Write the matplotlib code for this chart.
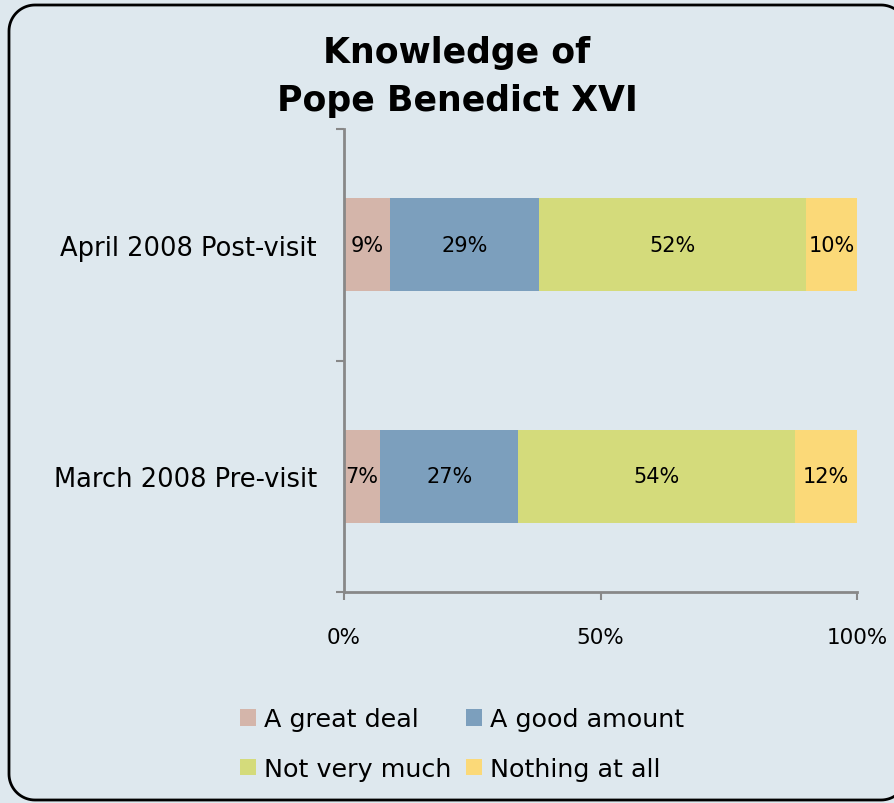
import numpy as np
import matplotlib.pyplot as plt
from matplotlib.lines import Line2D

categories = ['March 2008 Pre-visit', 'April 2008 Post-visit']
series = ['A great deal', 'A good amount', 'Not very much', 'Nothing at all']
great_deal = [7, 9]
good_amount = [27, 29]
not_much = [54, 52]
nothing = [12, 10]
colors = ['#D4B5AA', '#7C9FBD', '#D4DB7B', '#FBD978']

bg = '#DEE8EE'
plt.rcParams['font.family'] = ['DejaVu Sans']

W, H = 894, 804
fig = plt.figure(figsize=(W / 100, H / 100), dpi=100)
fig.patch.set_facecolor(bg)

# rounded frame (pixels), right edge sits just past the figure like the original
x0, y0, x1, y1, r = 9, 3, 907, 798, 26
fx, fy = [], []
for cx, cy, a0 in [(x1 - r, y1 - r, 0), (x0 + r, y1 - r, 90), (x0 + r, y0 + r, 180), (x1 - r, y0 + r, 270)]:
    t = np.radians(np.linspace(a0, a0 + 90, 20))
    fx += list(cx + r * np.cos(t))
    fy += list(cy + r * np.sin(t))
fx.append(fx[0])
fy.append(fy[0])
fig.lines.append(Line2D(np.array(fx) / W, np.array(fy) / H, transform=fig.transFigure,
                        color='black', linewidth=2))

ax = fig.add_axes([344 / W, 211 / H, 513 / W, 463 / H])
ax.set_facecolor(bg)

y = np.arange(len(categories))
left = np.zeros(len(categories))
for name, vals, col in zip(series, [great_deal, good_amount, not_much, nothing], colors):
    vals = np.array(vals)
    ax.barh(y, vals, left=left, height=0.4, color=col, label=name)
    for yi, l, v in zip(y, left, vals):
        ax.text(l + v / 2, yi, f'{v}%', ha='center', va='center', fontsize=15)
    left += vals

ax.set_xlim(0, 100)
ax.set_ylim(-0.5, 1.5)
ax.set_xticks([0, 50, 100])
ax.set_xticklabels(['0%', '50%', '100%'], fontsize=15.5)
ax.set_yticks([-0.5, 0.5, 1.5], minor=False)
ax.set_yticklabels(['', '', ''])
ax.set_yticks(y, minor=True)
ax.set_yticklabels(categories, minor=True, fontsize=18.5)
ax.tick_params(axis='y', which='minor', length=0, pad=19.5)
ax.tick_params(axis='y', which='major', length=6, width=1.5, color='#888888', direction='out')
ax.tick_params(axis='x', length=6, width=1.5, color='#888888', direction='out', pad=19)

for s in ['top', 'right']:
    ax.spines[s].set_visible(False)
for s in ['left', 'bottom']:
    ax.spines[s].set_color('#888888')
    ax.spines[s].set_linewidth(2)

fig.text(457 / W, 1 - 77 / H, 'Knowledge of\nPope Benedict XVI', ha='center', va='center',
         fontsize=25, fontweight='bold', linespacing=1.5)

handles, labels = ax.get_legend_handles_labels()
order = [0, 2, 1, 3]
fig.legend([handles[i] for i in order], [labels[i] for i in order], loc='center',
           bbox_to_anchor=(462 / W, 1 - 745 / H), ncol=2,
           frameon=False, fontsize=18.3, handlelength=0.62, handleheight=0.62,
           handletextpad=0.3, columnspacing=0.6, labelspacing=1.0)

fig.savefig('out.png', dpi=100, facecolor=bg)
